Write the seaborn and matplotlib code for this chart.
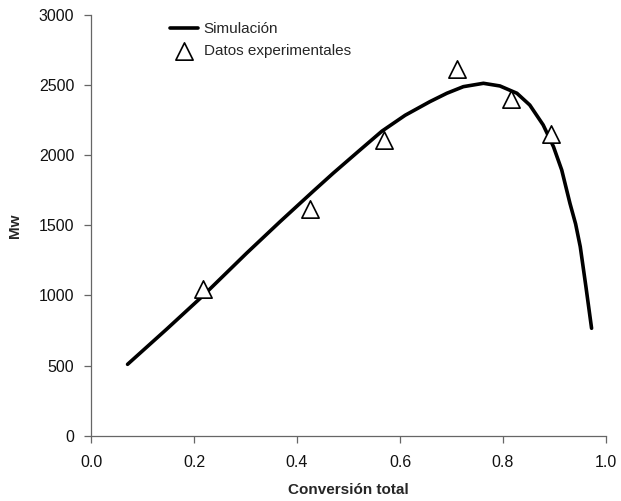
import matplotlib
matplotlib.use("Agg")
import matplotlib.pyplot as plt
import seaborn as sns
import pandas as pd

# Simulated curve
sim_conv = [0.071, 0.147, 0.218, 0.302, 0.367, 0.432, 0.470, 0.520, 0.565,
            0.610, 0.658, 0.691, 0.723, 0.762, 0.794, 0.827, 0.852, 0.878,
            0.898, 0.914, 0.930, 0.941, 0.950, 0.961, 0.972]
sim_mw = [509, 760, 1000, 1301, 1526, 1745, 1871, 2030, 2172,
          2285, 2382, 2442, 2489, 2513, 2494, 2442, 2358, 2216,
          2061, 1895, 1657, 1510, 1348, 1063, 766]

# Experimental data
exp_conv = [0.218, 0.425, 0.568, 0.711, 0.815, 0.893]
exp_mw = [1044, 1615, 2109, 2613, 2399, 2152]

sns.set_style("white")
plt.rcParams['font.family'] = ['Liberation Sans', 'DejaVu Sans']

sim = pd.DataFrame({"conv": sim_conv, "mw": sim_mw})
exp = pd.DataFrame({"conv": exp_conv, "mw": exp_mw})

fig = plt.figure(figsize=(6.21, 5.01), dpi=100)
ax = fig.add_axes([91 / 621, 65.3 / 501, 515 / 621, 420.7 / 501])

sns.lineplot(data=sim, x="conv", y="mw", ax=ax, color="black", linewidth=2.6,
             label="Simulación", sort=False, solid_joinstyle="round",
             solid_capstyle="round")
sns.scatterplot(data=exp, x="conv", y="mw", ax=ax, marker="^", s=155,
                facecolor="white", edgecolor="black", linewidth=1.2,
                label="Datos experimentales", zorder=3)

ax.set_xlim(0, 1.0)
ax.set_ylim(0, 3000)
ax.set_xticks([0.0, 0.2, 0.4, 0.6, 0.8, 1.0])
ax.set_xticklabels(["0.0", "0.2", "0.4", "0.6", "0.8", "1.0"])
ax.set_yticks([0, 500, 1000, 1500, 2000, 2500, 3000])

for side in ["top", "right"]:
    ax.spines[side].set_visible(False)
for side in ["left", "bottom"]:
    ax.spines[side].set_color("#666666")
    ax.spines[side].set_linewidth(0.9)

ax.tick_params(axis="both", direction="out", length=5, width=0.9,
               color="#666666", labelsize=11.5, labelcolor="#111111",
               bottom=True, left=True)
ax.tick_params(axis="x", pad=9)
ax.tick_params(axis="y", pad=7)

ax.set_xlabel("Conversión total", fontsize=11, fontweight="bold", labelpad=9)
ax.set_ylabel("Mw", fontsize=11, fontweight="bold", labelpad=12)

ax.legend(loc="upper left", bbox_to_anchor=(170 / 621, 1 - 22 / 501),
          bbox_transform=fig.transFigure, frameon=False, fontsize=11,
          handlelength=1.85, handletextpad=0.35, borderpad=0, borderaxespad=0,
          labelspacing=0.55)

fig.savefig("out.png", dpi=100)
